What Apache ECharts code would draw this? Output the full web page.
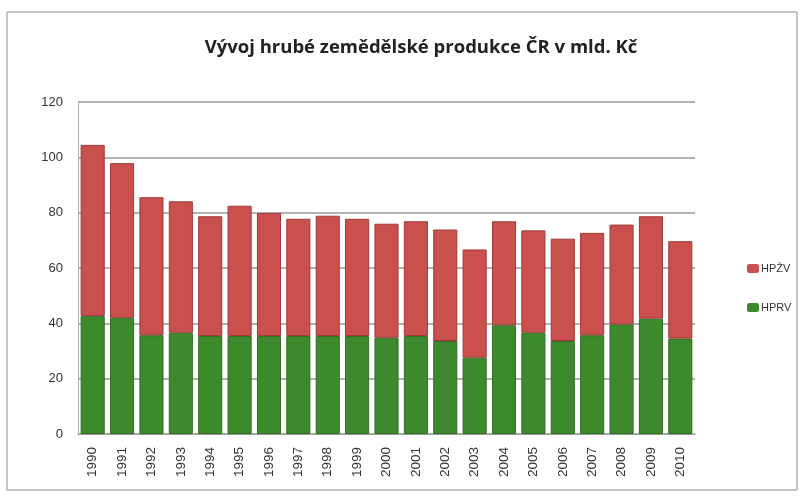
<!DOCTYPE html>
<html>
<head>
<meta charset="utf-8">
<script src="https://cdn.jsdelivr.net/npm/echarts@6/dist/echarts.min.js"></script>
<style>
  html, body { margin: 0; padding: 0; background: #fff; }
  #chart { width: 807px; height: 496px; }
</style>
</head>
<body>
<div id="chart"></div>
<script>
const years = ["1990", "1991", "1992", "1993", "1994", "1995", "1996", "1997", "1998", "1999",
  "2000", "2001", "2002", "2003", "2004", "2005", "2006", "2007", "2008", "2009", "2010"];
// rostlinná výroba (spodní část)
const hprv = [42.6, 42.0, 35.7, 36.6, 35.4, 35.4, 35.4, 35.4, 35.4, 35.4,
  34.8, 35.4, 33.6, 27.6, 39.3, 36.6, 33.6, 35.7, 39.6, 41.7, 34.5];
// živočišná výroba (horní část)
const hpzv = [61.9, 55.9, 49.9, 47.5, 43.3, 47.1, 44.5, 42.4, 43.5, 42.4,
  41.2, 41.5, 40.3, 39.1, 37.6, 37.0, 37.0, 37.0, 36.1, 37.0, 35.2];
const yTicks = [0, 20, 40, 60, 80, 100, 120];

const chart = echarts.init(document.getElementById("chart"));

const option = {
  backgroundColor: "#fff",
  title: {
    text: "Vývoj hrubé zemědělské produkce ČR v mld. Kč",
    left: 416,
    top: 33,
    textAlign: "center",
    textStyle: { fontFamily: "Open Sans", fontSize: 18.5, fontWeight: "bold", color: "#222" }
  },
  graphic: [{
    type: "rect",
    shape: { x: 7, y: 12, width: 790, height: 478 },
    style: { fill: "none", stroke: "#8c8c8c", lineWidth: 1 },
    silent: true
  }],
  legend: {
    orient: "vertical",
    left: 742,
    top: 258,
    itemWidth: 12,
    itemHeight: 9,
    itemGap: 28,
    data: ["HPŽV", "HPRV"],
    itemStyle: { borderWidth: 0 },
    textStyle: { fontFamily: "Liberation Sans", fontSize: 11, color: "#333", padding: [0, 0, 0, -3] }
  },
  grid: { left: 78, right: 112, top: 102, bottom: 62 },
  xAxis: {
    type: "category",
    data: years,
    axisLine: { lineStyle: { color: "#9a9a9a" } },
    axisTick: { show: false },
    axisLabel: {
      rotate: 90,
      fontFamily: "Liberation Sans",
      fontSize: 13.5,
      color: "#333",
      margin: 13
    }
  },
  yAxis: {
    type: "value",
    min: yTicks[0],
    max: yTicks[yTicks.length - 1],
    interval: 20,
    axisLine: { show: true, lineStyle: { color: "#b0b0b0" } },
    axisTick: { show: false },
    axisLabel: { fontFamily: "Liberation Sans", fontSize: 13, color: "#333", margin: 15 },
    splitLine: { lineStyle: { color: "#9a9a9a", width: 1.5 } }
  },
  series: [
    {
      name: "HPRV",
      type: "bar",
      stack: "total",
      data: hprv,
      barCategoryGap: "18%",
      itemStyle: { color: "#3d8a2c", borderColor: "#2f6e22", borderWidth: 1 }
    },
    {
      name: "HPŽV",
      type: "bar",
      stack: "total",
      data: hpzv,
      itemStyle: { color: "#c9504d", borderColor: "#9e3a38", borderWidth: 1 }
    }
  ]
};

chart.setOption(option);
</script>
</body>
</html>
